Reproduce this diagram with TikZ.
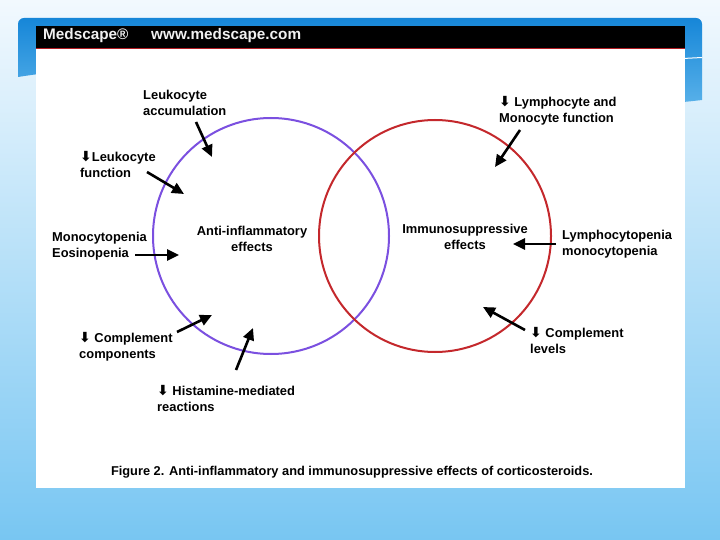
\documentclass[tikz,border=0pt]{standalone}
\usepackage{fontspec}
\setmainfont{Liberation Sans}
\newfontfamily\arrowfont{DejaVu Sans}
\usetikzlibrary{arrows.meta}
\definecolor{bgtop}{HTML}{F2F9FE}
\definecolor{bgbot}{HTML}{78C6F2}
\definecolor{bandtop}{HTML}{1686D8}
\definecolor{bandbot}{HTML}{6CBEEE}
\definecolor{purplec}{HTML}{7B50E0}
\definecolor{redc}{HTML}{C4282C}
\definecolor{hdrred}{HTML}{B01C22}
\newcommand{\dn}{{\arrowfont\raisebox{-0.2pt}{\scalebox{1.08}{⬇}}}}
\begin{document}
\begin{tikzpicture}[x=1pt,y=-1pt,
  lbl/.style={inner sep=0pt, align=left, anchor=north west, font=\bfseries\fontsize{12.9}{16}\selectfont},
  ctr/.style={inner sep=0pt, align=center, anchor=north, font=\bfseries\fontsize{12.9}{16}\selectfont},
  hdr/.style={inner sep=0pt, anchor=west, text=white!88!gray, font=\bfseries\fontsize{15.3}{16}\selectfont},
  arr/.style={-{Triangle[length=12pt,width=11pt]}, line width=2.6pt, black},
  ring/.style={line width=2pt}]
\useasboundingbox (0,0) rectangle (720,540);
% background
\shade[top color=bgtop, bottom color=bgbot] (0,0) rectangle (720,540);
% blue band
\shade[top color=bandtop, bottom color=bandbot, rounded corners=6pt]
  (18,77) -- (18,18) -- (702,18) [sharp corners] -- (702,100)
  .. controls (450,130) and (250,40) .. (18,77) -- cycle;
\draw[white, line width=1pt] (683,58.5) -- (702,57.5);
% white figure
\fill[white] (36,26) rectangle (685,488);
\fill[black] (36,26) rectangle (685,48);
\draw[hdrred, line width=1.2pt] (36,48.6) -- (685,48.6);
\node[hdr] (ms) at (43,36) {Medscape®};
\node[hdr] (url) at (151,36) {www.medscape.com};
% circles
\draw[ring, purplec] (271,236) circle[radius=118pt];
\draw[ring, redc] (435,236) circle[radius=116pt];
% labels
\node[ctr] (anti) at (252,226) {Anti-inflammatory\\effects};
\node[ctr] (immu) at (465,224) {Immunosuppressive\\effects};
\node[lbl] (leuacc) at (143,90) {Leukocyte\\accumulation};
\node[lbl] (leufun) at (80,151) {\dn Leukocyte\\function};
\node[lbl] (mono) at (52,232) {Monocytopenia\\Eosinopenia};
\node[lbl] (compc) at (79,332) {\dn\ Complement\\components};
\node[lbl] (hist) at (157,385) {\dn\ Histamine-mediated\\reactions};
\node[lbl] (lymfun) at (499,96) {\dn\ Lymphocyte and\\Monocyte function};
\node[lbl] (lympen) at (562,230) {Lymphocytopenia\\monocytopenia};
\node[lbl] (compl) at (530,327) {\dn\ Complement\\levels};
\node[inner sep=0pt, anchor=north, font=\bfseries\fontsize{12.8}{15}\selectfont] (cap) at (352,466)
  {Figure 2. Anti-inflammatory and immunosuppressive effects of corticosteroids.};
% arrows
\coordinate (a1s) at (196,122); \coordinate (a1t) at (212,157);
\coordinate (a2s) at (147,172); \coordinate (a2t) at (184,194);
\coordinate (a3s) at (135,255); \coordinate (a3t) at (179,255);
\coordinate (a4s) at (177,332); \coordinate (a4t) at (212,315);
\coordinate (a5s) at (236,370); \coordinate (a5t) at (253,328);
\coordinate (a6s) at (520,130); \coordinate (a6t) at (495,167);
\coordinate (a7s) at (556,244); \coordinate (a7t) at (513,244);
\coordinate (a8s) at (525,330); \coordinate (a8t) at (483,307);
\foreach \i in {1,...,8} \draw[arr] (a\i s) -- (a\i t);
\end{tikzpicture}
\end{document}
